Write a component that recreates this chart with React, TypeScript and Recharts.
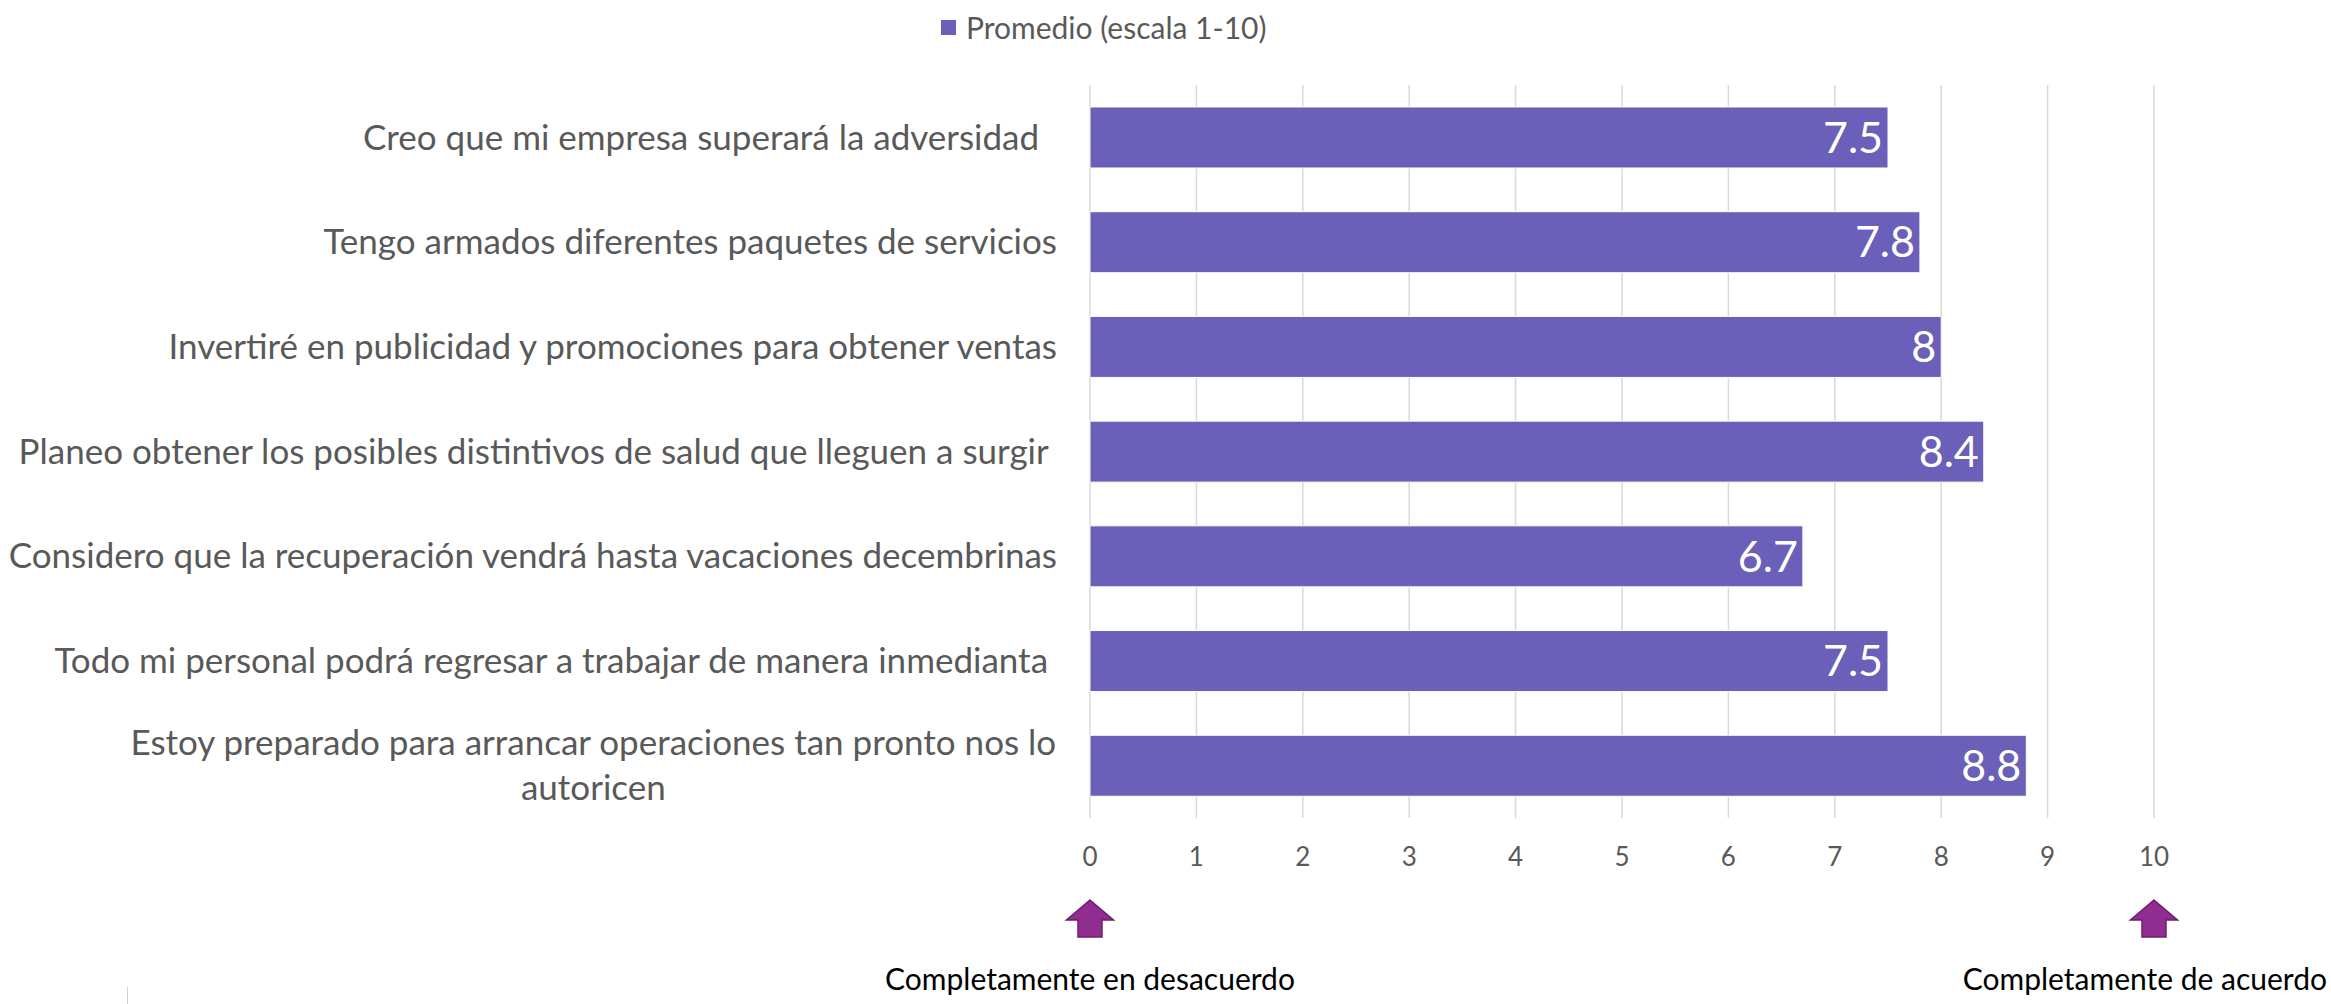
import React from "react";
import {
  BarChart,
  Bar,
  XAxis,
  YAxis,
  CartesianGrid,
  Legend,
  LabelList,
} from "recharts";

// categories (top to bottom) and the averages
const categories = [
  "Creo que mi empresa superará la adversidad  ",
  "Tengo armados diferentes paquetes de servicios",
  "Invertiré en publicidad y promociones para obtener ventas",
  "Planeo obtener los posibles distintivos de salud que lleguen a surgir ",
  "Considero que la recuperación vendrá hasta vacaciones decembrinas",
  "Todo mi personal podrá regresar a trabajar de manera inmedianta ",
  "Estoy preparado para arrancar operaciones tan pronto nos lo\nautoricen",
];
const promedio = [7.5, 7.8, 8, 8.4, 6.7, 7.5, 8.8];
const xTicks = [0, 1, 2, 3, 4, 5, 6, 7, 8, 9, 10];
const scaleNotes: Record<number, string> = {
  0: "Completamente en desacuerdo",
  10: "Completamente de acuerdo",
};
const seriesName = "Promedio (escala 1-10)";

const data = categories.map((c, i) => ({ name: c, value: promedio[i] }));

const FONT = "Lato, 'Open Sans', sans-serif";
const BAR_COLOR = "#6A5FB9";
const TEXT_GREY = "#595959";
const CAT_SIZE = 35;
const NOTE_SIZE = 30;
const CHART_W = 2331;

if (typeof document !== "undefined") document.body.style.margin = "0";

let ctx: CanvasRenderingContext2D | null = null;
const measure = (text: string, size: number) => {
  if (!ctx) ctx = document.createElement("canvas").getContext("2d");
  if (!ctx) return text.length * size * 0.5;
  ctx.font = `${size}px Lato`;
  return ctx.measureText(text).width;
};

const CategoryTick = (props: any) => {
  const { x, y, payload } = props;
  const lines = String(payload.value).split("\n");
  if (lines.length === 1) {
    return (
      <text
        x={x}
        y={y}
        dy={CAT_SIZE * 0.35}
        textAnchor="end"
        fill={TEXT_GREY}
        fontSize={CAT_SIZE}
        fontFamily={FONT}
        style={{ whiteSpace: "pre" }}
      >
        {lines[0]}
      </text>
    );
  }
  // wrapped label: block right aligned, lines centred inside it
  const lh = 45;
  const w = Math.max(...lines.map((l) => measure(l, CAT_SIZE)));
  const cx = x - w / 2;
  return (
    <text
      x={cx}
      y={y}
      textAnchor="middle"
      fill={TEXT_GREY}
      fontSize={CAT_SIZE}
      fontFamily={FONT}
    >
      {lines.map((l, i) => (
        <tspan
          key={i}
          x={cx}
          dy={i === 0 ? -((lines.length - 1) * lh) / 2 + CAT_SIZE * 0.35 : lh}
        >
          {l}
        </tspan>
      ))}
    </text>
  );
};

const ValueTick = (props: any) => {
  const { x, y, payload } = props;
  const note = scaleNotes[payload.value];
  const t = y + 52; // arrow tip
  // keep the caption inside the picture
  const noteX = note
    ? Math.min(x, CHART_W - 4 - measure(note, NOTE_SIZE) / 2)
    : x;
  return (
    <g>
      <text
        x={x}
        y={y}
        dy="0.71em"
        textAnchor="middle"
        fill={TEXT_GREY}
        fontSize={26}
        fontFamily={FONT}
      >
        {payload.value}
      </text>
      {note && (
        <>
          <path
            d={`M${x},${t} L${x + 23.5},${t + 20} L${x + 12},${t + 20} L${x + 12},${t + 37} L${x - 12},${t + 37} L${x - 12},${t + 20} L${x - 23.5},${t + 20} Z`}
            fill="#912C91"
            stroke="#6F1E6F"
            strokeWidth={1.5}
          />
          <text
            x={noteX}
            y={y + 142}
            textAnchor="middle"
            fill="#000"
            fontSize={NOTE_SIZE}
            fontFamily={FONT}
          >
            {note}
          </text>
        </>
      )}
    </g>
  );
};

const LegendContent = () => (
  <div
    style={{
      display: "flex",
      alignItems: "center",
      fontFamily: FONT,
      fontSize: 30,
      color: TEXT_GREY,
      whiteSpace: "nowrap",
    }}
  >
    <span
      style={{
        width: 15,
        height: 15,
        background: BAR_COLOR,
        display: "inline-block",
        marginRight: 10,
      }}
    />
    {seriesName}
  </div>
);

export default function App() {
  return (
    <div
      style={{
        width: CHART_W,
        height: 1004,
        position: "relative",
        background: "#fff",
        fontFamily: FONT,
      }}
    >
      <BarChart
        width={CHART_W}
        height={1004}
        data={data}
        layout="vertical"
        margin={{ top: 85, right: 177, left: 0, bottom: 0 }}
        barCategoryGap="21%"
        style={{ overflow: "visible" }}
      >
        <CartesianGrid horizontal={false} stroke="#D9D9D9" strokeWidth={1.5} />
        <XAxis
          type="number"
          domain={[0, 10]}
          ticks={xTicks}
          axisLine={false}
          tickLine={false}
          tickSize={0}
          tickMargin={30}
          height={186}
          tick={<ValueTick />}
          interval={0}
        />
        <YAxis
          type="category"
          dataKey="name"
          width={1090}
          axisLine={false}
          tickLine={false}
          tickSize={0}
          tickMargin={33}
          tick={<CategoryTick />}
          interval={0}
        />
        <Legend
          verticalAlign="middle"
          content={<LegendContent />}
          wrapperStyle={{ top: 9, left: 941, width: "auto" }}
        />
        <Bar
          dataKey="value"
          name={seriesName}
          fill={BAR_COLOR}
          stroke="#ffffff"
          strokeWidth={1}
          isAnimationActive={false}
        >
          <LabelList
            dataKey="value"
            position="insideRight"
            offset={5}
            fill="#ffffff"
            fontSize={43}
            fontFamily={FONT}
          />
        </Bar>
      </BarChart>
      <div
        style={{
          position: "absolute",
          left: 127,
          top: 987,
          width: 1,
          height: 17,
          background: "#D0D0D0",
        }}
      />
    </div>
  );
}
